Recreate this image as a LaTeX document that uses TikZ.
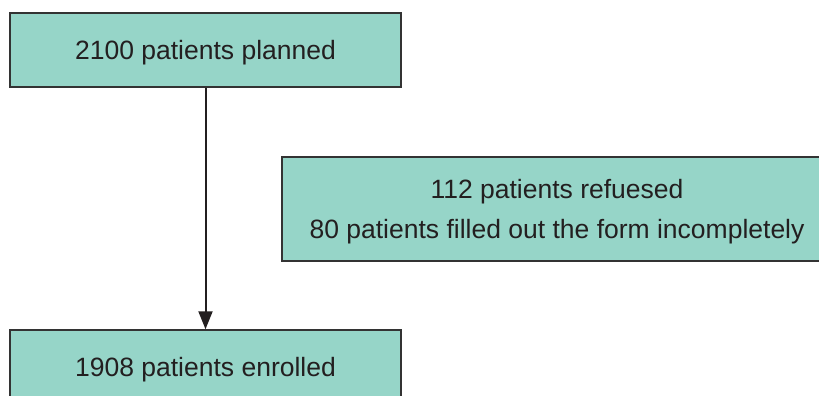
\documentclass[tikz,border=0pt]{standalone}
\usepackage{fontspec}
\setmainfont{Liberation Sans}
\usetikzlibrary{arrows.meta}
\definecolor{boxfill}{HTML}{96D5C8}
\definecolor{boxline}{HTML}{333333}
\definecolor{txt}{HTML}{231F20}
\tikzset{
  flowbox/.style={draw=boxline, fill=boxfill, line width=1.5pt, inner sep=0pt,
    text=txt, font=\fontsize{26.5}{40}\selectfont, align=center, text depth=0pt},
  flowarrow/.style={draw=txt, line width=2pt, -{Triangle[length=18pt,width=14pt]}}
}
\begin{document}
\begin{tikzpicture}[x=1pt,y=-1pt]
\useasboundingbox (0,0) rectangle (819,396);
\clip (0,0) rectangle (819,396);
\fill[white] (0,0) rectangle (819,396);
\node[flowbox, minimum width=391pt, minimum height=74pt] (top) at (205.5,50) {2100 patients planned};
\node[flowbox, minimum width=550pt, minimum height=104pt] (excl) at (557,209) {112 patients refuesed\\80 patients filled out the form incompletely};
\node[flowbox, minimum width=391pt, minimum height=74pt] (enr) at (205.5,367) {1908 patients enrolled};
\draw[flowarrow] (top.south) -- (enr.north);
\end{tikzpicture}
\end{document}
